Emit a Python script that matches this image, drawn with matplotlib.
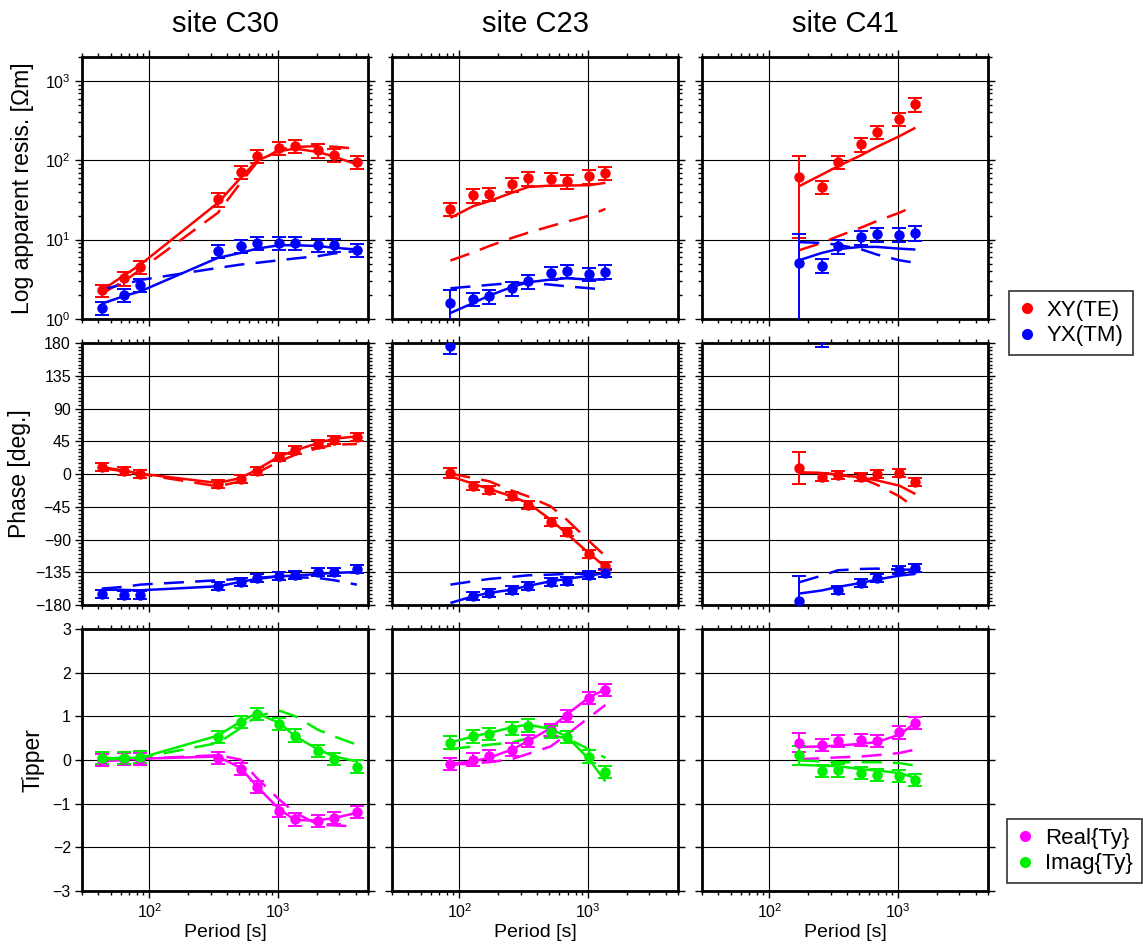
import matplotlib
matplotlib.use("Agg")
import matplotlib.pyplot as plt
from matplotlib.lines import Line2D
from matplotlib.ticker import LogLocator, MultipleLocator, NullFormatter, NullLocator

plt.rcParams['font.family'] = ['Liberation Sans', 'DejaVu Sans']
plt.rcParams['mathtext.fontset'] = 'custom'
plt.rcParams['mathtext.rm'] = 'Liberation Sans'
plt.rcParams['mathtext.it'] = 'Liberation Sans'

# ---------------------------------------------------------------- data
site_names = ["site C30", "site C23", "site C41"]

# periods [s]
c30_period = [42.67, 64.0, 85.33, 341.3, 512.0, 682.7, 1024.0, 1365.3, 2048.0, 2730.7, 4096.0]
c23_period = [85.33, 128.0, 170.7, 256.0, 341.3, 512.0, 682.7, 1024.0, 1365.3]
c41_period = [170.7, 256.0, 341.3, 512.0, 682.7, 1024.0, 1365.3]

# apparent resistivity [Ohm m]: observed, error, model (solid), model (dashed)
c30_rho_xy = [2.30, 3.26, 4.49, 32.1, 71, 113, 144, 151, 133, 117, 95]
c30_rho_xy_err = [0.42, 0.62, 0.85, 6.2, 13.5, 21, 27, 28, 25, 22, 18]
c30_rho_xy_fit = [2.30, 3.56, 4.85, 29.1, 60, 98, 131, 140, 127, 111, 88.7]
c30_rho_xy_alt = [2.10, 3.00, 4.20, 21.8, 52, 93, 137, 147, 151, 148, 140]
c30_rho_yx = [1.38, 2.03, 2.71, 7.28, 8.26, 9.1, 9.1, 9.1, 8.67, 8.67, 7.5]
c30_rho_yx_err = [0.26, 0.38, 0.5, 1.35, 1.5, 1.7, 1.7, 1.7, 1.6, 1.6, 1.4]
c30_rho_yx_fit = [1.56, 1.95, 2.23, 5.9, 6.8, 7.7, 8.5, 8.5, 8.3, 7.9, 7.5]
c30_rho_yx_alt = [2.35, 2.75, 3.1, 4.4, 4.85, 5.1, 5.5, 5.8, 6.2, 6.7, 7.2]

c23_rho_xy = [24.4, 36, 37.8, 49.6, 59, 58.5, 54.6, 62.6, 69.6]
c23_rho_xy_err = [4.8, 7.0, 7.4, 9.7, 11.5, 11.4, 10.7, 12.2, 13.6]
c23_rho_xy_fit = [18.8, 26.4, 30.5, 39, 46, 48, 48, 48.5, 52]
c23_rho_xy_alt = [5.45, 6.9, 8.3, 10.5, 12.2, 14.8, 16.8, 20.1, 24.4]
c23_rho_yx = [1.59, 1.79, 1.93, 2.44, 2.99, 3.81, 4.04, 3.7, 3.96]
c23_rho_yx_err = [0.71, 0.35, 0.38, 0.48, 0.58, 0.74, 0.79, 0.72, 0.77]
c23_rho_yx_fit = [1.19, 1.59, 1.97, 2.53, 2.9, 3.14, 3.26, 3.14, 3.14]
c23_rho_yx_alt = [2.44, 2.58, 2.69, 2.84, 2.84, 2.71, 2.58, 2.44, 2.34]

c41_rho_xy = [61.4, 46.3, 95.8, 159, 227, 334, 507]
c41_rho_xy_err = [51, 9.0, 18.7, 31, 44, 65, 99]
c41_rho_xy_fit = [47.2, 66, 84, 115, 147, 201, 257]
c41_rho_xy_alt = [7.36, 9.1, 11, 14.1, 17.1, 21.8, 26.9]
c41_rho_yx = [5.09, 4.71, 8.26, 10.8, 11.7, 11.6, 12.2]
c41_rho_yx_err = [6.8, 0.95, 1.65, 2.2, 2.35, 2.35, 2.45]
c41_rho_yx_fit = [5.5, 6.8, 7.6, 8.1, 8.1, 7.7, 7.5]
c41_rho_yx_alt = [9.3, 9.1, 8.6, 7.6, 6.5, 5.5, 5.1]

# impedance phase [deg]
c30_phs_xy = [9.6, 3.7, 0.0, -13.3, -6.4, 3.7, 23.3, 32.5, 41.2, 47.2, 50.4]
c30_phs_xy_err = [5.5, 5.5, 5.5, 5.5, 5.5, 5.5, 5.5, 5.5, 5.5, 5.5, 5.5]
c30_phs_xy_fit = [9.6, 4.5, 0.5, -12.4, -5.5, 6.0, 24.3, 32.5, 42.6, 48.5, 51.7]
c30_phs_xy_alt = [8.2, 3.5, 0.0, -17.0, -10.0, 1.4, 17.4, 26.6, 35.7, 40.3, 41.2]
c30_phs_yx = [-164.3, -166.6, -166.6, -154.3, -148.3, -142.8, -140.5, -138.3, -134.6, -134.6, -130.5]
c30_phs_yx_err = [5.5, 5.5, 5.5, 5.5, 5.5, 5.5, 5.5, 5.5, 5.5, 5.5, 5.5]
c30_phs_yx_fit = [-158.9, -159.3, -159.8, -154.3, -148.3, -144.2, -140.5, -139.6, -137.3, -136.0, -134.6]
c30_phs_yx_alt = [-157.5, -155.0, -152.0, -146.0, -144.0, -142.8, -140.5, -141.9, -142.8, -146.0, -152.0]

c23_phs_xy = [1.4, -16.0, -21.5, -29.8, -42.1, -65.5, -80.1, -109.9, -125.9]
c23_phs_xy_err = [7.0, 5.5, 5.5, 5.5, 5.5, 5.5, 5.5, 5.5, 5.5]
c23_phs_xy_fit = [-3.2, -13.3, -20.6, -30.7, -39.8, -62.7, -81.9, -109.4, -127.7]
c23_phs_xy_alt = [0.5, -5.5, -10.0, -22.9, -30.7, -44.4, -62.7, -92.5, -113.0]
c23_phs_yx = [175.3, -168.0, -163.4, -159.8, -154.3, -148.3, -147.4, -139.2, -136.0]
c23_phs_yx_err = [11.0, 5.5, 5.5, 5.5, 5.5, 5.5, 5.5, 5.5, 5.5]
c23_phs_yx_fit = [-177.2, -168.0, -163.4, -158.9, -153.8, -147.4, -144.2, -139.6, -136.0]
c23_phs_yx_alt = [-152.0, -147.4, -144.2, -141.5, -139.2, -138.3, -137.3, -136.9, -136.0]

c41_phs_xy = [7.8, -4.6, -1.8, -4.1, 0.0, 1.4, -11.0]
c41_phs_xy_err = [22.0, 5.5, 5.5, 5.5, 5.5, 5.5, 5.5]
c41_phs_xy_fit = [1.4, 1.4, -0.9, -4.6, -8.7, -16.0, -27.5]
c41_phs_xy_alt = [2.3, 1.4, -0.9, -5.5, -14.6, -30.7, -46.7]
c41_phs_yx = [-174.8, 186.0, -158.9, -149.7, -142.8, -132.3, -129.1]
c41_phs_yx_err = [34.0, 11.0, 5.5, 5.5, 5.5, 5.5, 5.5]
c41_phs_yx_fit = [-164.3, -160.0, -155.2, -149.7, -145.1, -139.6, -137.3]
c41_phs_yx_alt = [-148.8, -139.6, -132.3, -130.5, -130.0, -131.4, -131.4]

# vertical transfer function Ty
c30_tip_re = [0.0, 0.02, 0.02, 0.05, -0.21, -0.62, -1.16, -1.36, -1.39, -1.33, -1.19]
c30_tip_re_err = [0.14, 0.14, 0.14, 0.14, 0.14, 0.14, 0.14, 0.14, 0.14, 0.14, 0.14]
c30_tip_re_fit = [0.01, 0.02, 0.03, 0.08, -0.18, -0.60, -1.13, -1.38, -1.38, -1.33, -1.21]
c30_tip_re_alt = [-0.03, 0.0, 0.03, 0.11, 0.01, -0.41, -0.91, -1.21, -1.48, -1.50, -1.52]
c30_tip_im = [0.05, 0.05, 0.06, 0.53, 0.87, 1.06, 0.83, 0.56, 0.21, 0.02, -0.15]
c30_tip_im_err = [0.14, 0.14, 0.14, 0.14, 0.14, 0.14, 0.14, 0.14, 0.14, 0.14, 0.14]
c30_tip_im_fit = [0.04, 0.05, 0.05, 0.56, 0.88, 1.07, 0.85, 0.54, 0.24, 0.08, -0.03]
c30_tip_im_alt = [0.01, 0.03, 0.05, 0.39, 0.73, 1.00, 1.13, 1.00, 0.69, 0.54, 0.35]

c23_tip_re = [-0.09, 0.01, 0.10, 0.24, 0.43, 0.68, 1.01, 1.42, 1.61]
c23_tip_re_err = [0.14, 0.14, 0.14, 0.14, 0.14, 0.14, 0.14, 0.14, 0.14]
c23_tip_re_fit = [-0.09, -0.03, 0.05, 0.24, 0.43, 0.73, 1.04, 1.44, 1.62]
c23_tip_re_alt = [-0.11, -0.08, -0.05, 0.02, 0.14, 0.31, 0.58, 0.98, 1.26]
c23_tip_im = [0.40, 0.54, 0.60, 0.72, 0.79, 0.65, 0.52, 0.08, -0.27]
c23_tip_im_err = [0.14, 0.14, 0.14, 0.14, 0.14, 0.14, 0.14, 0.14, 0.14]
c23_tip_im_fit = [0.40, 0.54, 0.62, 0.75, 0.81, 0.71, 0.54, 0.01, -0.49]
c23_tip_im_alt = [0.25, 0.31, 0.35, 0.40, 0.50, 0.56, 0.50, 0.24, 0.05]

c41_tip_re = [0.40, 0.34, 0.44, 0.46, 0.43, 0.63, 0.84]
c41_tip_re_err = [0.21, 0.14, 0.14, 0.14, 0.14, 0.14, 0.14]
c41_tip_re_fit = [0.30, 0.31, 0.33, 0.37, 0.41, 0.58, 0.85]
c41_tip_re_alt = [0.02, 0.04, 0.06, 0.08, 0.11, 0.16, 0.24]
c41_tip_im = [0.11, -0.26, -0.24, -0.30, -0.35, -0.36, -0.45]
c41_tip_im_err = [0.22, 0.14, 0.14, 0.14, 0.14, 0.14, 0.14]
c41_tip_im_fit = [-0.11, -0.13, -0.14, -0.21, -0.24, -0.30, -0.41]
c41_tip_im_alt = [-0.01, -0.03, -0.05, -0.05, -0.05, -0.07, -0.13]

legend_mt = ["XY(TE)", "YX(TM)"]
legend_tip = ["Real{Ty}", "Imag{Ty}"]

# ---------------------------------------------------------------- style
RED, BLUE, MAG, GRN = "#ff0000", "#0000ff", "#ff00ff", "#00ee00"
LW = 1.8
DASH = (0, (8.0, 4.5))

sites = [
    dict(T=c30_period,
         rho=[(c30_rho_xy, c30_rho_xy_err, c30_rho_xy_fit, c30_rho_xy_alt, RED),
              (c30_rho_yx, c30_rho_yx_err, c30_rho_yx_fit, c30_rho_yx_alt, BLUE)],
         phs=[(c30_phs_xy, c30_phs_xy_err, c30_phs_xy_fit, c30_phs_xy_alt, RED),
              (c30_phs_yx, c30_phs_yx_err, c30_phs_yx_fit, c30_phs_yx_alt, BLUE)],
         tip=[(c30_tip_re, c30_tip_re_err, c30_tip_re_fit, c30_tip_re_alt, MAG),
              (c30_tip_im, c30_tip_im_err, c30_tip_im_fit, c30_tip_im_alt, GRN)]),
    dict(T=c23_period,
         rho=[(c23_rho_xy, c23_rho_xy_err, c23_rho_xy_fit, c23_rho_xy_alt, RED),
              (c23_rho_yx, c23_rho_yx_err, c23_rho_yx_fit, c23_rho_yx_alt, BLUE)],
         phs=[(c23_phs_xy, c23_phs_xy_err, c23_phs_xy_fit, c23_phs_xy_alt, RED),
              (c23_phs_yx, c23_phs_yx_err, c23_phs_yx_fit, c23_phs_yx_alt, BLUE)],
         tip=[(c23_tip_re, c23_tip_re_err, c23_tip_re_fit, c23_tip_re_alt, MAG),
              (c23_tip_im, c23_tip_im_err, c23_tip_im_fit, c23_tip_im_alt, GRN)]),
    dict(T=c41_period,
         rho=[(c41_rho_xy, c41_rho_xy_err, c41_rho_xy_fit, c41_rho_xy_alt, RED),
              (c41_rho_yx, c41_rho_yx_err, c41_rho_yx_fit, c41_rho_yx_alt, BLUE)],
         phs=[(c41_phs_xy, c41_phs_xy_err, c41_phs_xy_fit, c41_phs_xy_alt, RED),
              (c41_phs_yx, c41_phs_yx_err, c41_phs_yx_fit, c41_phs_yx_alt, BLUE)],
         tip=[(c41_tip_re, c41_tip_re_err, c41_tip_re_fit, c41_tip_re_alt, MAG),
              (c41_tip_im, c41_tip_im_err, c41_tip_im_fit, c41_tip_im_alt, GRN)]),
]

W, H = 1143, 947
fig = plt.figure(figsize=(W / 100, H / 100), dpi=100)

col_left = [82, 392, 702]
row_top = [57, 343, 629]
pw, ph = 286, 262


def panel(col, row):
    l, t = col_left[col], row_top[row]
    return fig.add_axes([l / W, 1 - (t + ph) / H, pw / W, ph / H])


def draw(ax, T, series):
    for obs, err, fit, alt, c in series:
        ax.plot(T, fit, color=c, lw=LW, solid_capstyle='butt', zorder=2)
        ax.plot(T, alt, color=c, lw=LW, linestyle=DASH, dash_capstyle='butt', zorder=2)
    for obs, err, fit, alt, c in series:
        ax.errorbar(T, obs, yerr=err, fmt='o', color=c, ms=6.5,
                    elinewidth=1.4, capsize=5, capthick=1.4, zorder=3)


def style(ax, row, col):
    ax.set_xscale('log')
    ax.set_xlim(30, 5000)
    ax.xaxis.set_major_locator(LogLocator(base=10, numticks=10))
    ax.xaxis.set_minor_locator(LogLocator(base=10, subs=range(2, 10), numticks=20))
    ax.xaxis.set_minor_formatter(NullFormatter())
    if row == 0:
        ax.set_yscale('log')
        ax.set_ylim(1, 2000)
        ax.yaxis.set_major_locator(LogLocator(base=10, numticks=10))
        ax.yaxis.set_minor_locator(LogLocator(base=10, subs=range(2, 10), numticks=20))
        ax.yaxis.set_minor_formatter(NullFormatter())
    elif row == 1:
        ax.set_ylim(-180, 180)
        ax.yaxis.set_major_locator(MultipleLocator(45))
        ax.yaxis.set_minor_locator(MultipleLocator(5))
    else:
        ax.set_ylim(-3, 3)
        ax.yaxis.set_major_locator(MultipleLocator(1))
        ax.yaxis.set_minor_locator(NullLocator())
    ax.grid(True, which='major', color='black', lw=0.8)
    ax.set_axisbelow(True)
    for s in ax.spines.values():
        s.set_linewidth(2.0)
    ax.tick_params(which='both', direction='out', top=True, right=True,
                   labelsize=11.5, width=1.0, pad=3)
    ax.tick_params(which='major', length=5)
    ax.tick_params(which='minor', length=3)
    if row != 2:
        ax.tick_params(labelbottom=False)
    if col != 0:
        ax.tick_params(labelleft=False)


for col, s in enumerate(sites):
    for row, key in enumerate(["rho", "phs", "tip"]):
        ax = panel(col, row)
        draw(ax, s["T"], s[key])
        style(ax, row, col)
        if row == 2:
            ax.set_xlabel("Period [s]", fontsize=14, labelpad=2)
    cx = (col_left[col] + pw / 2) / W
    fig.text(cx, 1 - 24 / H, site_names[col], ha='center', va='center', fontsize=21)

fig.text(23 / W, 1 - (row_top[0] + ph / 2) / H, "Log apparent resis. [\u03a9m]",
         rotation=90, ha='center', va='center', fontsize=16.5)
fig.text(20 / W, 1 - (row_top[1] + ph / 2) / H, "Phase [deg.]",
         rotation=90, ha='center', va='center', fontsize=16.5)
fig.text(33 / W, 1 - (row_top[2] + ph / 2) / H, "Tipper",
         rotation=90, ha='center', va='center', fontsize=16.5)


def legend(labels, colors, left, top):
    handles = [Line2D([], [], ls='none', marker='o', ms=8, mew=0, color=c) for c in colors]
    lg = fig.legend(handles, labels, loc='upper left',
                    bbox_to_anchor=(left / W, 1 - top / H), borderaxespad=0,
                    fontsize=16, frameon=True, fancybox=False, handlelength=0.8,
                    handletextpad=0.5, borderpad=0.4, labelspacing=0.2)
    fr = lg.get_frame()
    fr.set_edgecolor('black')
    fr.set_linewidth(1.2)
    return lg


legend(legend_mt, [RED, BLUE], 1009, 291)
legend(legend_tip, [MAG, GRN], 1007, 819)

fig.savefig("out.png", dpi=100)
